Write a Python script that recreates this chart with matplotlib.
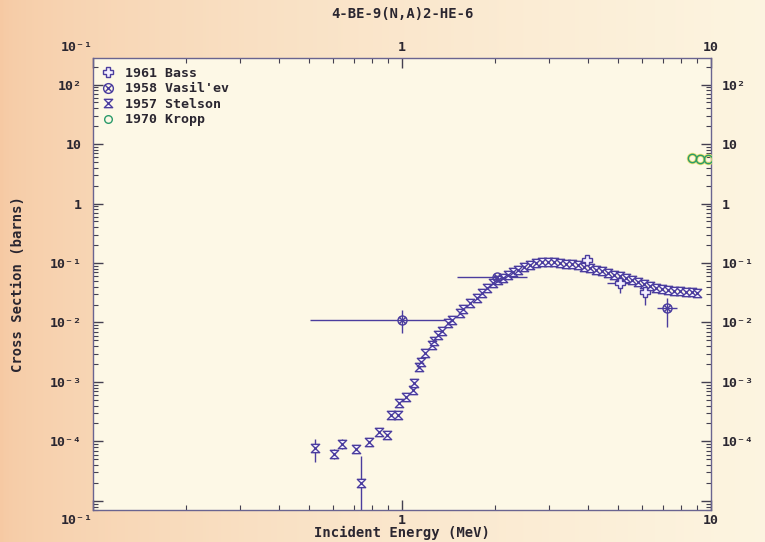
import numpy as np
import matplotlib
matplotlib.use("Agg")
import matplotlib.pyplot as plt
from matplotlib.path import Path
from matplotlib.lines import Line2D
from matplotlib.ticker import FixedLocator, LogLocator, NullFormatter, FixedFormatter

# ---------------- data ----------------
title = "4-BE-9(N,A)2-HE-6"
xlabel = "Incident Energy (MeV)"
ylabel = "Cross Section (barns)"

stelson_E = [0.523, 0.602, 0.639, 0.710, 0.737, 0.782, 0.843, 0.894, 0.921, 0.970,
             0.978, 1.030, 1.085, 1.093, 1.135, 1.152, 1.187, 1.250, 1.269, 1.308,
             1.347, 1.409, 1.451, 1.541, 1.576, 1.660, 1.748, 1.815, 1.884, 1.970,
             2.045, 2.123, 2.203, 2.287, 2.373, 2.482, 2.596, 2.715, 2.839, 2.969,
             3.104, 3.246, 3.395, 3.549, 3.712, 3.882, 4.059, 4.245, 4.438, 4.642,
             4.854, 5.076, 5.307, 5.550, 5.804, 6.069, 6.346, 6.637, 6.940, 7.257,
             7.592, 7.937, 8.300, 8.680, 9.010]
stelson_xs = [7.87e-5, 6.24e-5, 9.18e-5, 7.57e-5, 1.96e-5, 9.93e-5, 1.41e-4, 1.30e-4, 2.82e-4, 2.82e-4,
              4.48e-4, 5.65e-4, 7.40e-4, 9.70e-4, 1.80e-3, 2.18e-3, 3.09e-3, 4.21e-3, 4.91e-3, 6.19e-3,
              7.23e-3, 9.84e-3, 1.11e-2, 1.45e-2, 1.69e-2, 2.13e-2, 2.59e-2, 3.14e-2, 3.81e-2, 4.62e-2,
              5.19e-2, 5.60e-2, 6.29e-2, 7.06e-2, 7.63e-2, 8.57e-2, 9.25e-2, 0.100, 0.104, 0.104,
              0.104, 0.100, 0.0962, 0.0962, 0.0925, 0.0857, 0.0824, 0.0763, 0.0734, 0.0680,
              0.0629, 0.0605, 0.0560, 0.0519, 0.0480, 0.0445, 0.0411, 0.0381, 0.0366, 0.0352,
              0.0339, 0.0339, 0.0326, 0.0326, 0.0314]
stelson_err_lo = [3.3e-5, 1.2e-5, 1.8e-5, 1.2e-5, 1.95e-5, 1.5e-5, 2.0e-5, 1.8e-5, 3.0e-5, 3.0e-5,
                  4.0e-5, 5.0e-5, 6.0e-5, 8.0e-5, 1.4e-4, 1.6e-4, 2.2e-4, 3.0e-4, 3.4e-4, 4.2e-4,
                  5.0e-4, 6.5e-4, 7.0e-4, 9.0e-4, 1.0e-3, 1.3e-3, 1.5e-3, 1.8e-3, 2.2e-3, 2.6e-3,
                  3.0e-3, 3.2e-3, 3.6e-3, 4.0e-3, 4.4e-3, 5.0e-3, 5.4e-3, 6.0e-3, 6.2e-3, 6.2e-3,
                  6.4e-3, 6.2e-3, 6.0e-3, 6.4e-3, 6.2e-3, 6.0e-3, 6.0e-3, 5.8e-3, 5.8e-3, 5.6e-3,
                  5.4e-3, 5.4e-3, 5.2e-3, 5.0e-3, 4.8e-3, 4.6e-3, 4.6e-3, 4.8e-3, 5.0e-3, 5.0e-3,
                  5.0e-3, 5.0e-3, 5.0e-3, 5.0e-3, 4.8e-3]
stelson_err_hi = [3.2e-5, 1.2e-5, 1.8e-5, 1.2e-5, 3.6e-5, 1.5e-5, 2.0e-5, 1.8e-5, 3.0e-5, 3.0e-5,
                  4.0e-5, 5.0e-5, 6.0e-5, 8.0e-5, 1.4e-4, 1.6e-4, 2.2e-4, 3.0e-4, 3.4e-4, 4.2e-4,
                  5.0e-4, 6.5e-4, 7.0e-4, 9.0e-4, 1.0e-3, 1.3e-3, 1.5e-3, 1.8e-3, 2.2e-3, 2.6e-3,
                  3.0e-3, 3.2e-3, 3.6e-3, 4.0e-3, 4.4e-3, 5.0e-3, 5.4e-3, 6.0e-3, 6.2e-3, 6.2e-3,
                  6.4e-3, 6.2e-3, 6.0e-3, 6.4e-3, 6.2e-3, 6.0e-3, 6.0e-3, 5.8e-3, 5.8e-3, 5.6e-3,
                  5.4e-3, 5.4e-3, 5.2e-3, 5.0e-3, 4.8e-3, 4.6e-3, 4.6e-3, 4.8e-3, 5.0e-3, 5.0e-3,
                  5.0e-3, 5.0e-3, 5.0e-3, 5.0e-3, 4.8e-3]

bass_E = [3.97, 5.08, 6.11]
bass_xs = [0.110, 0.0462, 0.0326]
bass_yerr_lo = [0.010, 0.0148, 0.0129]
bass_yerr_hi = [0.015, 0.006, 0.004]
bass_xerr_lo = [0.0, 0.47, 0.0]
bass_xerr_hi = [0.0, 0.51, 0.0]

vasil_E = [1.00, 2.03, 7.20]
vasil_xs = [0.0111, 0.0583, 0.0176]
vasil_yerr_lo = [0.0044, 0.003, 0.0092]
vasil_yerr_hi = [0.0052, 0.003, 0.0083]
vasil_xerr_lo = [0.496, 0.524, 0.51]
vasil_xerr_hi = [0.45, 0.51, 0.56]

kropp_E = [8.68, 9.21, 9.78]
kropp_xs = [5.78, 5.6, 5.7]

legend_labels = ["1961 Bass", "1958 Vasil'ev", "1957 Stelson", "1970 Kropp"]

x_ticks = [0.1, 1, 10]
x_ticklabels = ["10\u207b\u00b9", "1", "10"]
y_ticks = [1e-5, 1e-4, 1e-3, 1e-2, 1e-1, 1, 10, 100]
y_ticklabels = ["", "10\u207b\u2074", "10\u207b\u00b3", "10\u207b\u00b2", "10\u207b\u00b9", "1", "10", "10\u00b2"]

# ---------------- style ----------------
FONT = "DejaVu Sans Mono"
plt.rcParams["font.family"] = [FONT, "DejaVu Sans"]
plt.rcParams["font.weight"] = "bold"
DATA_C = "#4b3d9e"
TEXT_C = "#2a2630"
FACE_C = "#f4f0ff"

hourglass = Path([(-1, 1), (1, 1), (-1, -1), (1, -1), (-1, 1)],
                 [Path.MOVETO, Path.LINETO, Path.LINETO, Path.LINETO, Path.CLOSEPOLY])
circ = Path.unit_circle()
xmark = Path([(-0.7, -0.7), (0.7, 0.7), (-0.7, 0.7), (0.7, -0.7)],
             [Path.MOVETO, Path.LINETO, Path.MOVETO, Path.LINETO])
circx = Path.make_compound_path(circ, xmark)

fig = plt.figure(figsize=(7.65, 5.42), dpi=100)

# background gradient (scanned-paper look)
bg = fig.add_axes([0, 0, 1, 1], zorder=-10)
gx = np.linspace(0, 1, 256)
c_left = np.array([0.965, 0.79, 0.64])
c_right = np.array([0.99, 0.96, 0.88])
w = gx[:, None] ** 0.6
grad = c_left[None, :] * (1 - w) + c_right[None, :] * w
bg.imshow(grad[None, :, :], aspect="auto", extent=[0, 1, 0, 1])
bg.axis("off")

ax = fig.add_axes([93 / 765, 1 - 510 / 542, (711 - 93) / 765, (510 - 58) / 542])
ax.set_facecolor("#fdf8e6")
ax.set_xscale("log")
ax.set_yscale("log")
ax.set_xlim(0.1, 10)
ax.set_ylim(7.0e-6, 2.8e2)

ekw = dict(ecolor=DATA_C, elinewidth=1.0, capsize=0, linestyle="none")

ax.errorbar(stelson_E, stelson_xs, yerr=[stelson_err_lo, stelson_err_hi],
            marker=hourglass, markersize=6, markerfacecolor=FACE_C,
            markeredgecolor=DATA_C, markeredgewidth=1.0, **ekw)
ax.errorbar(bass_E, bass_xs, yerr=[bass_yerr_lo, bass_yerr_hi], xerr=[bass_xerr_lo, bass_xerr_hi],
            marker="P", markersize=6.5, markerfacecolor=FACE_C,
            markeredgecolor=DATA_C, markeredgewidth=1.0, **ekw)
ax.errorbar(vasil_E, vasil_xs, yerr=[vasil_yerr_lo, vasil_yerr_hi], xerr=[vasil_xerr_lo, vasil_xerr_hi],
            marker=circx, markersize=6.5, markerfacecolor="none",
            markeredgecolor=DATA_C, markeredgewidth=1.0, **ekw)
ax.plot(kropp_E, kropp_xs, linestyle="none", marker="o", markersize=6,
        markerfacecolor="none", markeredgecolor="#e8e070", markeredgewidth=2.2, zorder=3)
ax.plot(kropp_E, kropp_xs, linestyle="none", marker="o", markersize=6,
        markerfacecolor="none", markeredgecolor="#2a9a6a", markeredgewidth=1.0, zorder=4)

handles = [
    Line2D([], [], linestyle="none", marker="P", markersize=7, markerfacecolor=FACE_C,
           markeredgecolor=DATA_C, markeredgewidth=1.0),
    Line2D([], [], linestyle="none", marker=circx, markersize=7, markerfacecolor="none",
           markeredgecolor=DATA_C, markeredgewidth=1.0),
    Line2D([], [], linestyle="none", marker=hourglass, markersize=6, markerfacecolor=FACE_C,
           markeredgecolor=DATA_C, markeredgewidth=1.0),
    Line2D([], [], linestyle="none", marker="o", markersize=5.5, markerfacecolor="none",
           markeredgecolor="#2a9a6a", markeredgewidth=1.0),
]
leg = ax.legend(handles, legend_labels,
                loc="upper left", frameon=False, handlelength=1.0, handletextpad=0.8,
                borderaxespad=0.3, borderpad=0.35, labelspacing=0.2,
                prop=dict(family=FONT, weight="bold", size=9.5))
for t in leg.get_texts():
    t.set_color(TEXT_C)

# ticks
ax.xaxis.set_major_locator(FixedLocator(x_ticks))
ax.xaxis.set_major_formatter(FixedFormatter(x_ticklabels))
ax.xaxis.set_minor_locator(LogLocator(base=10, subs=np.arange(2, 10)))
ax.xaxis.set_minor_formatter(NullFormatter())
ax.yaxis.set_major_locator(FixedLocator(y_ticks))
ax.yaxis.set_major_formatter(FixedFormatter(y_ticklabels))
ax.yaxis.set_minor_locator(LogLocator(base=10, subs=np.arange(2, 10), numticks=20))
ax.yaxis.set_minor_formatter(NullFormatter())
ax.tick_params(which="both", direction="in", top=True, right=True,
               labeltop=True, labelright=True, colors="#444050",
               labelcolor=TEXT_C, labelsize=9.5)
ax.tick_params(which="major", length=7, width=1.0)
ax.tick_params(which="minor", length=3.5, width=0.8)
ax.tick_params(axis="y", which="major", pad=8)
ax.tick_params(axis="x", which="major", pad=3)
for s in ax.spines.values():
    s.set_color("#6a6490")
    s.set_linewidth(1.0)

fig.canvas.draw()
for tick in ax.xaxis.get_major_ticks()[:1]:
    tick.label1.set_horizontalalignment("right")
    tick.label2.set_horizontalalignment("right")

fig.text(402 / 765, 1 - 533 / 542, xlabel, ha="center", va="center",
         fontsize=10, fontweight="bold", color=TEXT_C)
fig.text(18 / 765, 1 - 284 / 542, ylabel, ha="center", va="center", rotation=90,
         fontsize=10, fontweight="bold", color=TEXT_C)
fig.text(402 / 765, 1 - 14 / 542, title, ha="center", va="center",
         fontsize=10, fontweight="bold", color=TEXT_C)

fig.savefig("out.png", dpi=100)
